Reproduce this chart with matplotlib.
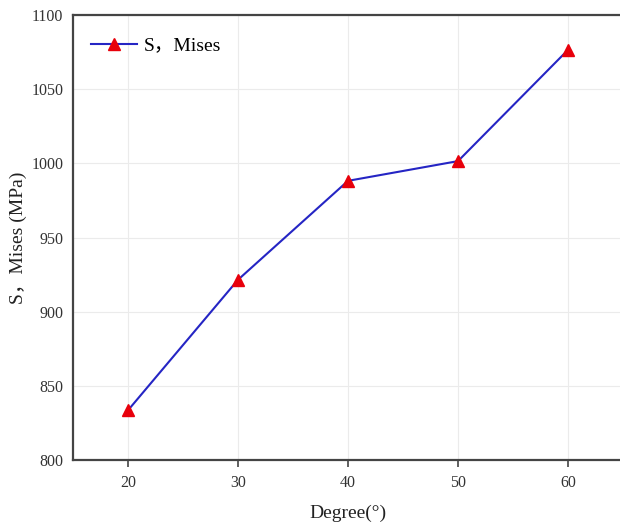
import matplotlib.pyplot as plt

degree = [20, 30, 40, 50, 60]
mises = [833.5, 921.5, 988.2, 1001.5, 1076.5]
x_ticks = [20, 30, 40, 50, 60]
y_ticks = [800, 850, 900, 950, 1000, 1050, 1100]

fonts = ['Liberation Serif', 'Noto Sans CJK SC', 'DejaVu Sans']
plt.rcParams['font.family'] = fonts

fig = plt.figure(figsize = (6.2, 5.23), dpi = 100)
ax = fig.add_axes([73 / 620, 1 - 460 / 523, 550 / 620, 445 / 523])

ax.grid(which = "major", axis = "both", color = "#EBEBEB", linewidth = 0.8, zorder = 0)
ax.plot(degree, mises, color = "#2525C4", linewidth = 1.5, marker = "^",
        markersize = 8, markerfacecolor = "#E8000B", markeredgecolor = "#E8000B",
        label = "S，Mises", zorder = 3)

ax.set_xlim(15, 65)
ax.set_ylim(800, 1100)
ax.set_xticks(x_ticks)
ax.set_yticks(y_ticks)

for side in ["left", "bottom", "top"]:
    ax.spines[side].set_color("#444444")
    ax.spines[side].set_linewidth(1.6)
ax.spines["right"].set_visible(False)

ax.xaxis.set_tick_params(direction = "out", length = 5, width = 1.2, color = "#444444",
                         labelsize = 11.5, labelcolor = "#333333", pad = 6)
ax.yaxis.set_tick_params(length = 0, labelsize = 11.5, labelcolor = "#333333", pad = 7)

ax.set_xlabel("Degree(°)", fontsize = 14, labelpad = 10, color = "#222222")
ax.set_ylabel("S，Mises (MPa)", fontsize = 14, labelpad = 3, color = "#222222")

ax.legend(loc = "upper left", frameon = False, fontsize = 14, handlelength = 2.4,
          bbox_to_anchor = (0.0, 0.99), handletextpad = 0.35)

fig.savefig("out.png", dpi = 100)
